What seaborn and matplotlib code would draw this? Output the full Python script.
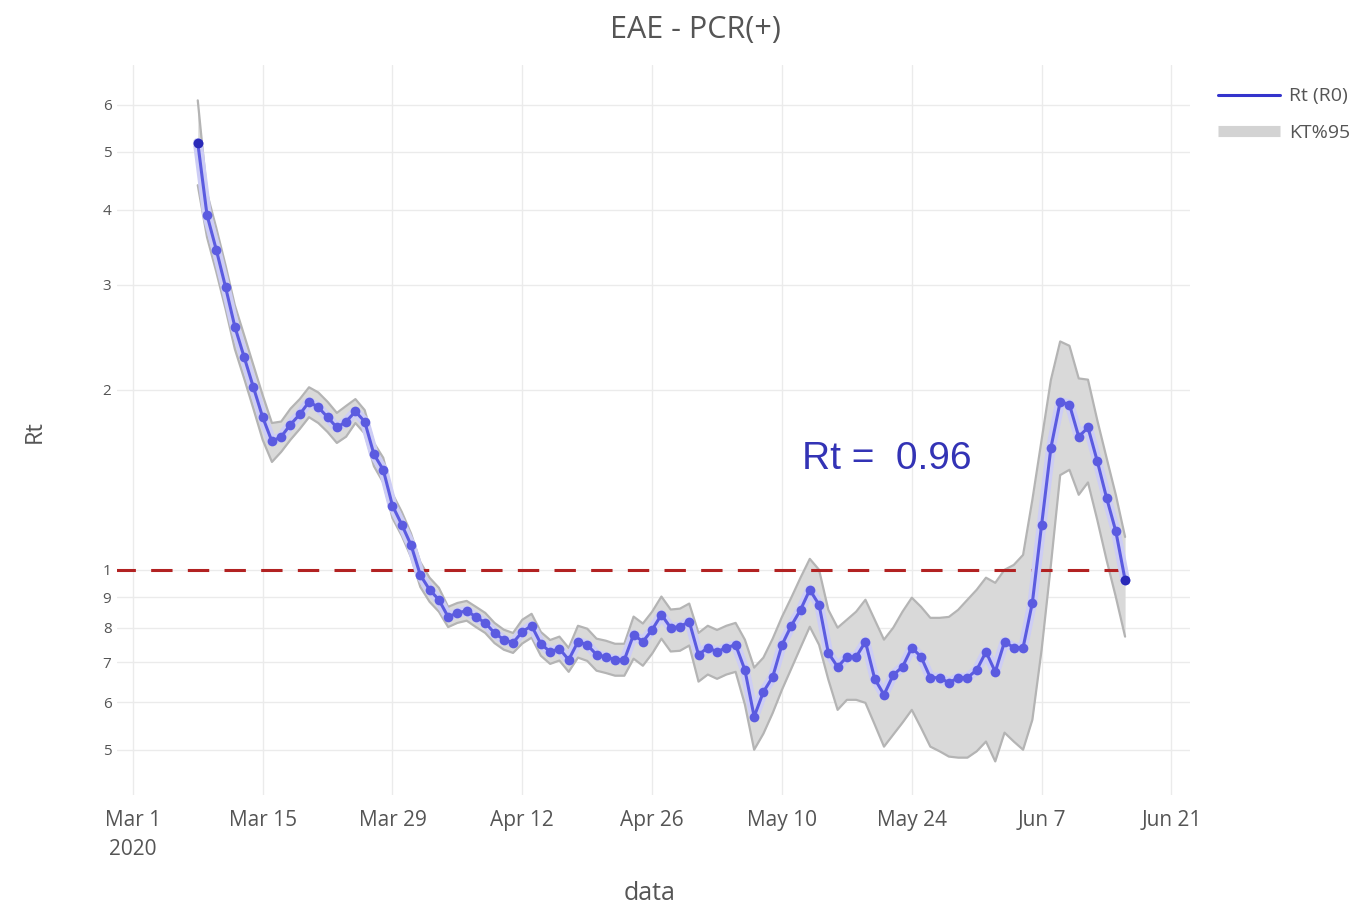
"""
Rt curve with 95% interval band (EAE - PCR(+))
"""

import pandas as pd
import matplotlib
matplotlib.use('Agg')
import matplotlib.pyplot as plt
from matplotlib.lines import Line2D
from matplotlib.ticker import NullLocator
import seaborn as sns

# daily Rt estimates, Mar 8 2020 .. Jun 16 2020
rt = [5.18, 3.92, 3.43, 2.97, 2.55, 2.27, 2.02, 1.80, 1.64, 1.67,
      1.75, 1.82, 1.91, 1.87, 1.80, 1.73, 1.77, 1.84, 1.77, 1.56,
      1.47, 1.28, 1.19, 1.10, 0.98, 0.926, 0.891, 0.834, 0.847, 0.854,
      0.834, 0.815, 0.784, 0.764, 0.755, 0.788, 0.806, 0.752, 0.729, 0.738,
      0.707, 0.758, 0.749, 0.721, 0.715, 0.707, 0.707, 0.779, 0.758, 0.794,
      0.841, 0.800, 0.803, 0.819, 0.721, 0.741, 0.729, 0.741, 0.749, 0.680,
      0.568, 0.625, 0.662, 0.749, 0.806, 0.857, 0.926, 0.874, 0.726, 0.688,
      0.715, 0.715, 0.758, 0.657, 0.618, 0.667, 0.688, 0.741, 0.715, 0.660,
      0.660, 0.647, 0.660, 0.660, 0.680, 0.729, 0.675, 0.758, 0.741, 0.741,
      0.881, 1.19, 1.60, 1.91, 1.89, 1.67, 1.73, 1.52, 1.32, 1.16,
      0.962]

# upper bound of the 95% interval
rt_hi = [6.10, 4.27, 3.73, 3.23, 2.77, 2.47, 2.20, 1.96, 1.76, 1.77,
         1.86, 1.93, 2.02, 1.98, 1.91, 1.83, 1.88, 1.93, 1.85, 1.63,
         1.54, 1.34, 1.25, 1.15, 1.03, 0.970, 0.933, 0.867, 0.880, 0.887,
         0.867, 0.847, 0.815, 0.794, 0.784, 0.825, 0.844, 0.787, 0.763, 0.773,
         0.740, 0.806, 0.797, 0.767, 0.761, 0.752, 0.752, 0.835, 0.813, 0.851,
         0.902, 0.858, 0.861, 0.878, 0.784, 0.806, 0.793, 0.806, 0.815, 0.764,
         0.686, 0.713, 0.767, 0.834, 0.898, 0.970, 1.043, 1.000, 0.857, 0.800,
         0.825, 0.851, 0.891, 0.825, 0.764, 0.800, 0.851, 0.898, 0.867, 0.831,
         0.831, 0.834, 0.857, 0.891, 0.926, 0.970, 0.951, 1.000, 1.019, 1.059,
         1.309, 1.650, 2.078, 2.41, 2.37, 2.09, 2.08, 1.78, 1.54, 1.335,
         1.135]

# lower bound of the 95% interval
rt_lo = [4.40, 3.60, 3.15, 2.73, 2.34, 2.09, 1.86, 1.65, 1.515, 1.575,
         1.65, 1.72, 1.80, 1.76, 1.70, 1.63, 1.67, 1.76, 1.69, 1.49,
         1.40, 1.22, 1.14, 1.05, 0.936, 0.884, 0.851, 0.802, 0.815, 0.822,
         0.802, 0.784, 0.754, 0.735, 0.726, 0.753, 0.770, 0.718, 0.696, 0.705,
         0.675, 0.713, 0.704, 0.678, 0.672, 0.665, 0.665, 0.710, 0.691, 0.724,
         0.767, 0.730, 0.732, 0.747, 0.650, 0.668, 0.657, 0.668, 0.675, 0.595,
         0.500, 0.532, 0.576, 0.630, 0.683, 0.741, 0.803, 0.749, 0.655, 0.583,
         0.606, 0.606, 0.599, 0.551, 0.506, 0.530, 0.555, 0.583, 0.544, 0.506,
         0.497, 0.487, 0.485, 0.485, 0.497, 0.516, 0.478, 0.534, 0.516, 0.500,
         0.561, 0.735, 1.019, 1.44, 1.47, 1.335, 1.40, 1.212, 1.039, 0.901,
         0.773]

y_ticks = [0.5, 0.6, 0.7, 0.8, 0.9, 1, 2, 3, 4, 5, 6]
y_tick_labels = ['5', '6', '7', '8', '9', '1', '2', '3', '4', '5', '6']
x_tick_labels = ['Mar 1\n2020', 'Mar 15', 'Mar 29', 'Apr 12', 'Apr 26',
                 'May 10', 'May 24', 'Jun 7', 'Jun 21']

df = pd.DataFrame({
    'data': pd.date_range('2020-03-08', periods=len(rt), freq='D'),
    'rt': rt,
    'hi': rt_hi,
    'lo': rt_lo,
})

sns.set_theme(style='whitegrid')
plt.rcParams['font.family'] = ['Open Sans', 'DejaVu Sans']

fig, ax = plt.subplots(figsize=(13.69, 9.10), dpi=100)
fig.subplots_adjust(left=117 / 1369, right=1190 / 1369,
                    bottom=1 - 795 / 910, top=1 - 65 / 910)

# confidence band
ax.fill_between(df['data'], df['lo'], df['hi'], color='#d9d9d9', lw=0, zorder=1)
sns.lineplot(data=df, x='data', y='hi', color='#b4b4b4', lw=1.6, ax=ax, zorder=2)
sns.lineplot(data=df, x='data', y='lo', color='#b4b4b4', lw=1.6, ax=ax, zorder=2)

# threshold Rt = 1
ax.hlines(1, pd.Timestamp('2020-02-28'), pd.Timestamp('2020-06-16'),
          color='#b22222', lw=2.2, ls=(0, (7, 5)), zorder=3)

# Rt line with soft halo
sns.lineplot(data=df, x='data', y='rt', color='#cdcdf5', lw=7, ax=ax, zorder=4)
sns.lineplot(data=df, x='data', y='rt', color='#5b5be0', lw=2.2, marker='o',
             markersize=7, markeredgewidth=0, ax=ax, zorder=5)
sns.scatterplot(data=df.iloc[[0, -1]], x='data', y='rt', color='#2a2ab8',
                s=48, linewidth=0, ax=ax, zorder=6)

ax.text(pd.Timestamp('2020-05-21 08:00'), 1.53, 'Rt =  0.96', ha='center',
        va='center', fontsize=28, color='#3333b5', family='Liberation Sans')

ax.set_yscale('log')
ax.set_ylim(0.42, 6.99)
ax.set_yticks(y_ticks)
ax.set_yticklabels(y_tick_labels)
ax.yaxis.set_minor_locator(NullLocator())

ax.set_xlim(pd.Timestamp('2020-02-28 07:00'), pd.Timestamp('2020-06-23'))
ax.set_xticks(pd.date_range('2020-03-01', periods=9, freq='14D'))
ax.set_xticklabels(x_tick_labels, linespacing=1.5)

for s in ax.spines.values():
    s.set_visible(False)
ax.grid(True, color='#ebebeb', lw=1)
ax.tick_params(axis='x', length=0, pad=11, labelsize=15, labelcolor='#555555')
ax.tick_params(axis='y', length=0, pad=4, labelsize=11, labelcolor='#555555')

ax.set_xlabel('')
ax.set_ylabel('')
fig.text(650 / 1369, 1 - 893 / 910, 'data', ha='center', va='center',
         fontsize=18, color='#555555')
fig.text(35 / 1369, 1 - 432 / 910, 'Rt', ha='center', va='center',
         rotation=90, fontsize=17, color='#555555')
fig.text(695 / 1369, 1 - 30 / 910, 'EAE - PCR(+)', ha='center', va='center',
         fontsize=22, color='#555555')

handles = [Line2D([0], [0], color='#3434cc', lw=2.2),
           Line2D([0], [0], color='#d3d3d3', lw=8, solid_capstyle='butt')]
fig.legend(handles, ['Rt (R0)', 'KT%95'], loc='upper left',
           bbox_to_anchor=(1200 / 1369, 1 - 70 / 910), frameon=False,
           fontsize=14, labelcolor='#555555', handlelength=3.2,
           labelspacing=0.95, handletextpad=0.5)

plt.savefig('out.png', dpi=100)
